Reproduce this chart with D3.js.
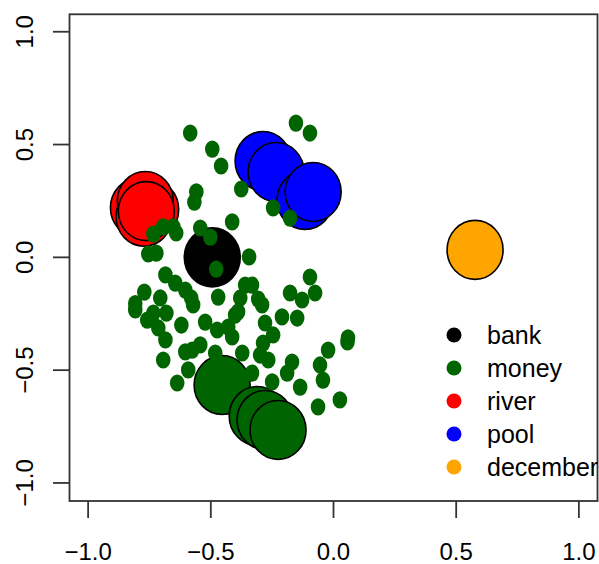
<!DOCTYPE html>
<html>
<head>
<meta charset="utf-8">
<script src="https://cdn.jsdelivr.net/npm/d3@7"></script>
<style>
  html, body { margin: 0; padding: 0; background: #ffffff; }
  svg { display: block; }
  text { font-family: "Liberation Sans", Arial, Helvetica, sans-serif; fill: #000; }
</style>
</head>
<body>
<svg id="chart" width="599" height="564"></svg>
<script>
// ---- data ----
const categories = ["bank", "money", "river", "pool", "december"];
const categoryColors = ["#000000", "#006400", "#ff0000", "#0000ff", "#ffa500"];

// large word points (drawn with outline)
const bigWord = ["river", "river", "river", "river", "river",
                 "pool", "pool", "pool", "pool",
                 "money", "money", "money", "money",
                 "bank", "december"];
const bigX = [-0.795, -0.745, -0.767, -0.772, -0.763,
              -0.287, -0.234, -0.116, -0.083,
              -0.454, -0.311, -0.279, -0.226,
              -0.494, 0.577];
const bigY = [0.220, 0.212, 0.250, 0.180, 0.205,
              0.427, 0.378, 0.254, 0.290,
              -0.566, -0.703, -0.721, -0.765,
              0.000, 0.033];

// small "money" context points
const moneyX = [-0.584, -0.494, -0.458, -0.153, -0.096, -0.559, -0.567, -0.376, -0.246, -0.177,
                -0.734, -0.694, -0.653, -0.641, -0.543, -0.502, -0.413, -0.755, -0.722, -0.344,
                -0.478, -0.685, -0.645, -0.604, -0.580, -0.572, -0.771, -0.808, -0.706, -0.734,
                -0.681, -0.759, -0.714, -0.685, -0.620, -0.523, -0.470, -0.474, -0.429, -0.413,
                -0.401, -0.380, -0.360, -0.332, -0.694, -0.604, -0.576, -0.543, -0.482, -0.592,
                -0.637, -0.372, -0.389, -0.291, -0.279, -0.246, -0.287, -0.299, -0.266, -0.210,
                -0.177, -0.128, -0.148, -0.096, -0.075, -0.169, -0.189, -0.136, -0.250, 0.059,
                -0.022, -0.055, -0.043, -0.063, 0.026, -0.332, -0.307, 0.057, -0.808];
const moneyY = [0.551, 0.480, 0.405, 0.595, 0.551, 0.290, 0.245, 0.303, 0.219, 0.174,
                0.103, 0.135, 0.135, 0.108, 0.130, 0.090, 0.157, 0.015, 0.019, 0.002,
                -0.052, -0.078, -0.114, -0.145, -0.180, -0.211, -0.154, -0.233, -0.180, -0.247,
                -0.247, -0.278, -0.313, -0.366, -0.300, -0.287, -0.176, -0.322, -0.309, -0.353,
                -0.256, -0.180, -0.123, -0.123, -0.455, -0.419, -0.411, -0.388, -0.424, -0.499,
                -0.557, -0.424, -0.242, -0.211, -0.291, -0.344, -0.380, -0.433, -0.455, -0.264,
                -0.158, -0.189, -0.269, -0.087, -0.158, -0.464, -0.513, -0.575, -0.552, -0.357,
                -0.411, -0.477, -0.544, -0.663, -0.632, -0.513, -0.185, -0.375, -0.205];

const xTicks = [-1.0, -0.5, 0.0, 0.5, 1.0];
const yTicks = [-1.0, -0.5, 0.0, 0.5, 1.0];
const tickLabels = ["\u22121.0", "\u22120.5", "0.0", "0.5", "1.0"];

// ---- drawing ----
const svg = d3.select("#chart");
const color = d3.scaleOrdinal(categories, categoryColors);

const x = d3.scaleLinear().domain([-1.08, 1.08]).range([68.5, 598.5]);
const y = d3.scaleLinear().domain([-1.08, 1.08]).range([501, 13.7]);

// big word circles
const bigData = bigWord.map((w, i) => ({ w, x: bigX[i], y: bigY[i] }));
svg.append("g").selectAll("ellipse")
  .data(bigData)
  .join("ellipse")
  .attr("cx", d => x(d.x))
  .attr("cy", d => y(d.y))
  .attr("rx", 28)
  .attr("ry", 29.5)
  .attr("fill", d => color(d.w))
  .attr("stroke", "#000")
  .attr("stroke-width", 1.6);

// small money points
const moneyData = moneyX.map((v, i) => ({ x: v, y: moneyY[i] }));
svg.append("g").selectAll("ellipse")
  .data(moneyData)
  .join("ellipse")
  .attr("cx", d => x(d.x))
  .attr("cy", d => y(d.y))
  .attr("rx", 7.3)
  .attr("ry", 8.6)
  .attr("fill", color("money"));

// box
svg.append("rect")
  .attr("x", 69.5).attr("y", 14.3)
  .attr("width", 528).attr("height", 486.7)
  .attr("fill", "none")
  .attr("stroke", "#333")
  .attr("stroke-width", 1.8);

// x axis ticks + labels
const gx = svg.append("g");
gx.selectAll("line")
  .data(xTicks)
  .join("line")
  .attr("x1", d => x(d)).attr("x2", d => x(d))
  .attr("y1", 501).attr("y2", 518)
  .attr("stroke", "#333").attr("stroke-width", 1.8);
gx.selectAll("text")
  .data(xTicks)
  .join("text")
  .attr("x", d => x(d))
  .attr("y", 560)
  .attr("text-anchor", "middle")
  .attr("font-size", 24)
  .text((d, i) => tickLabels[i]);

// y axis ticks + labels
const gy = svg.append("g");
gy.selectAll("line")
  .data(yTicks)
  .join("line")
  .attr("x1", 53).attr("x2", 69.5)
  .attr("y1", d => y(d)).attr("y2", d => y(d))
  .attr("stroke", "#333").attr("stroke-width", 1.8);
gy.selectAll("text")
  .data(yTicks)
  .join("text")
  .attr("transform", d => `translate(33,${y(d)}) rotate(-90)`)
  .attr("text-anchor", "middle")
  .attr("font-size", 24)
  .text((d, i) => tickLabels[i]);

// legend
const legend = svg.append("g");
const legendY = d3.scalePoint().domain(categories).range([335, 467]);
legend.selectAll("circle")
  .data(categories)
  .join("circle")
  .attr("cx", 454)
  .attr("cy", d => legendY(d))
  .attr("r", 7.5)
  .attr("fill", d => color(d));
legend.selectAll("text")
  .data(categories)
  .join("text")
  .attr("x", 487)
  .attr("y", d => legendY(d) + 9)
  .attr("font-size", 25)
  .text(d => d);
</script>
</body>
</html>
